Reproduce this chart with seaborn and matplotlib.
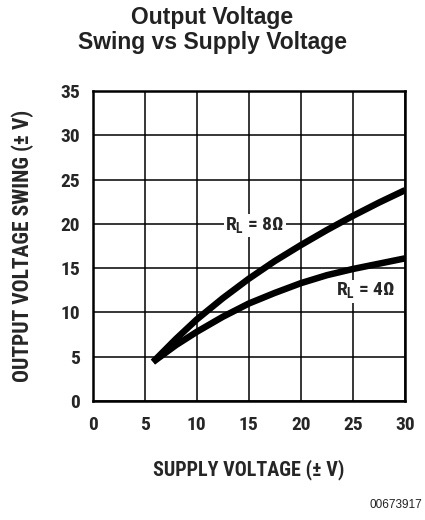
import pandas as pd
import numpy as np
import seaborn as sns
import matplotlib.pyplot as plt

## Data
supply = [5.8, 8, 10, 12.5, 15, 17.5, 20, 22.5, 25, 27.5, 30]
swing_8ohm = [4.4, 7.0, 9.2, 11.6, 13.8, 15.8, 17.6, 19.3, 20.9, 22.4, 23.8]
swing_4ohm = [4.4, 6.3, 7.8, 9.5, 11.0, 12.2, 13.3, 14.2, 14.9, 15.5, 16.1]
x_ticks = [0, 5, 10, 15, 20, 25, 30]
y_ticks = [0, 5, 10, 15, 20, 25, 30, 35]

df = pd.DataFrame({
    "supply": supply * 2,
    "swing": swing_8ohm + swing_4ohm,
    "load": ["8"] * len(supply) + ["4"] * len(supply),
})

sns.set_style("white")
narrow = ["Roboto Condensed", "DejaVu Sans"]
plt.rcParams["font.family"] = ["Liberation Sans", "DejaVu Sans"]

fig = plt.figure(figsize=(4.25, 5.2), dpi=100)
ax = fig.add_axes([0.218, 0.229, 0.735, 0.596])

for load in ["8", "4"]:
    sns.lineplot(data=df[df.load == load], x="supply", y="swing", color="black",
                 linewidth=4.7, estimator=None, sort=False, ax=ax,
                 solid_capstyle="butt")

ax.set_xlim(0, 30)
ax.set_ylim(0, 35)
ax.set_xticks(x_ticks)
ax.set_yticks(y_ticks)
ax.grid(True, color="black", linewidth=1.1)
ax.set_axisbelow(True)
for s in ax.spines.values():
    s.set_visible(True)
    s.set_color("black")
    s.set_linewidth(1.8)
ax.tick_params(axis="y", length=0, pad=9)
ax.tick_params(axis="x", length=0, pad=11)
for lab in ax.get_xticklabels() + ax.get_yticklabels():
    lab.set_family(narrow)
    lab.set_fontweight("bold")
    lab.set_fontsize(14)

ax.set_xlabel("SUPPLY VOLTAGE (± V)", fontsize=14.5, fontweight="bold",
              family=narrow, labelpad=18)
ax.set_ylabel("OUTPUT VOLTAGE SWING (± V)", fontsize=15.5, fontweight="bold",
              family=narrow, labelpad=19)

ax.text(15.6, 19.8, "R$_\\mathregular{L}$ = 8Ω", fontsize=14, fontweight="bold",
        family=narrow, ha="center", va="center",
        bbox=dict(facecolor="white", edgecolor="none", pad=1))
ax.text(26.2, 12.4, "R$_\\mathregular{L}$ = 4Ω", fontsize=14, fontweight="bold",
        family=narrow, ha="center", va="center",
        bbox=dict(facecolor="white", edgecolor="none", pad=1))

fig.text(0.5, 0.942, "Output Voltage\nSwing vs Supply Voltage", ha="center",
         va="center", fontsize=16.5, fontweight="bold", color="#222222",
         linespacing=1.1)
fig.text(0.993, 0.028, "00673917", ha="right", va="center", fontsize=8.5,
         color="#222222")

fig.savefig("out.png", dpi=100)
